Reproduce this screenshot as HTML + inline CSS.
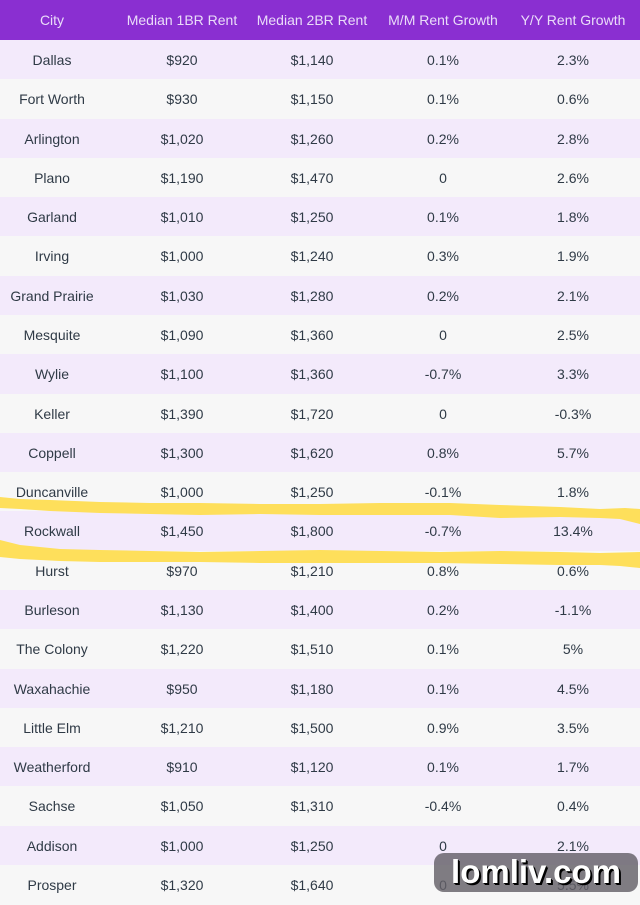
<!DOCTYPE html>
<html>
<head>
<meta charset="utf-8">
<style>
  html,body{margin:0;padding:0;}
  body{width:640px;height:900px;overflow:hidden;background:#f7f7f7;position:relative;font-family:"Liberation Sans",Arial,sans-serif;}
  .hdr{position:absolute;left:0;top:0;width:640px;height:40px;background:#8a2fd1;}
  .row{position:absolute;left:0;width:640px;height:39.3px;}
  .odd{background:#f3eafb;}
  .even{background:#f7f7f7;}
  .c{position:absolute;top:0;width:140px;text-align:center;font-size:14px;line-height:40px;color:#2f3a46;white-space:nowrap;}
  .hdr .c{color:#eadcf9;line-height:40px;font-size:14px;}
  .c1{left:-18px;}
  .c2{left:112px;}
  .c3{left:242px;}
  .c4{left:373px;}
  .c5{left:503px;}
  .wm{position:absolute;left:434px;top:853px;width:204px;height:39px;border-radius:10px;background:rgba(100,96,104,0.82);}
  .wmt{position:absolute;left:434px;top:853px;width:204px;height:39px;text-align:center;font-weight:bold;font-size:33px;line-height:38px;color:#fff;text-shadow:2px 2px 0 #000,1px 1px 0 #000;letter-spacing:0px;}
</style>
</head>
<body>
<div class="hdr">
  <div class="c c1">City</div>
  <div class="c c2">Median 1BR Rent</div>
  <div class="c c3">Median 2BR Rent</div>
  <div class="c c4">M/M Rent Growth</div>
  <div class="c c5">Y/Y Rent Growth</div>
</div>

<div class="row odd" style="top:40px"><div class="c c1">Dallas</div><div class="c c2">$920</div><div class="c c3">$1,140</div><div class="c c4">0.1%</div><div class="c c5">2.3%</div></div>
<div class="row even" style="top:79.29px"><div class="c c1">Fort Worth</div><div class="c c2">$930</div><div class="c c3">$1,150</div><div class="c c4">0.1%</div><div class="c c5">0.6%</div></div>
<div class="row odd" style="top:118.57px"><div class="c c1">Arlington</div><div class="c c2">$1,020</div><div class="c c3">$1,260</div><div class="c c4">0.2%</div><div class="c c5">2.8%</div></div>
<div class="row even" style="top:157.86px"><div class="c c1">Plano</div><div class="c c2">$1,190</div><div class="c c3">$1,470</div><div class="c c4">0</div><div class="c c5">2.6%</div></div>
<div class="row odd" style="top:197.14px"><div class="c c1">Garland</div><div class="c c2">$1,010</div><div class="c c3">$1,250</div><div class="c c4">0.1%</div><div class="c c5">1.8%</div></div>
<div class="row even" style="top:236.43px"><div class="c c1">Irving</div><div class="c c2">$1,000</div><div class="c c3">$1,240</div><div class="c c4">0.3%</div><div class="c c5">1.9%</div></div>
<div class="row odd" style="top:275.71px"><div class="c c1">Grand Prairie</div><div class="c c2">$1,030</div><div class="c c3">$1,280</div><div class="c c4">0.2%</div><div class="c c5">2.1%</div></div>
<div class="row even" style="top:315px"><div class="c c1">Mesquite</div><div class="c c2">$1,090</div><div class="c c3">$1,360</div><div class="c c4">0</div><div class="c c5">2.5%</div></div>
<div class="row odd" style="top:354.29px"><div class="c c1">Wylie</div><div class="c c2">$1,100</div><div class="c c3">$1,360</div><div class="c c4">-0.7%</div><div class="c c5">3.3%</div></div>
<div class="row even" style="top:393.57px"><div class="c c1">Keller</div><div class="c c2">$1,390</div><div class="c c3">$1,720</div><div class="c c4">0</div><div class="c c5">-0.3%</div></div>
<div class="row odd" style="top:432.86px"><div class="c c1">Coppell</div><div class="c c2">$1,300</div><div class="c c3">$1,620</div><div class="c c4">0.8%</div><div class="c c5">5.7%</div></div>
<div class="row even" style="top:472.14px"><div class="c c1">Duncanville</div><div class="c c2">$1,000</div><div class="c c3">$1,250</div><div class="c c4">-0.1%</div><div class="c c5">1.8%</div></div>
<div class="row odd" style="top:511.43px"><div class="c c1">Rockwall</div><div class="c c2">$1,450</div><div class="c c3">$1,800</div><div class="c c4">-0.7%</div><div class="c c5">13.4%</div></div>
<div class="row even" style="top:550.71px"><div class="c c1">Hurst</div><div class="c c2">$970</div><div class="c c3">$1,210</div><div class="c c4">0.8%</div><div class="c c5">0.6%</div></div>
<div class="row odd" style="top:590px"><div class="c c1">Burleson</div><div class="c c2">$1,130</div><div class="c c3">$1,400</div><div class="c c4">0.2%</div><div class="c c5">-1.1%</div></div>
<div class="row even" style="top:629.29px"><div class="c c1">The Colony</div><div class="c c2">$1,220</div><div class="c c3">$1,510</div><div class="c c4">0.1%</div><div class="c c5">5%</div></div>
<div class="row odd" style="top:668.57px"><div class="c c1">Waxahachie</div><div class="c c2">$950</div><div class="c c3">$1,180</div><div class="c c4">0.1%</div><div class="c c5">4.5%</div></div>
<div class="row even" style="top:707.86px"><div class="c c1">Little Elm</div><div class="c c2">$1,210</div><div class="c c3">$1,500</div><div class="c c4">0.9%</div><div class="c c5">3.5%</div></div>
<div class="row odd" style="top:747.14px"><div class="c c1">Weatherford</div><div class="c c2">$910</div><div class="c c3">$1,120</div><div class="c c4">0.1%</div><div class="c c5">1.7%</div></div>
<div class="row even" style="top:786.43px"><div class="c c1">Sachse</div><div class="c c2">$1,050</div><div class="c c3">$1,310</div><div class="c c4">-0.4%</div><div class="c c5">0.4%</div></div>
<div class="row odd" style="top:825.71px"><div class="c c1">Addison</div><div class="c c2">$1,000</div><div class="c c3">$1,250</div><div class="c c4">0</div><div class="c c5">2.1%</div></div>
<div class="row even" style="top:865px"><div class="c c1">Prosper</div><div class="c c2">$1,320</div><div class="c c3">$1,640</div><div class="c c4">0</div><div class="c c5">5.5%</div></div>

<svg style="position:absolute;left:0;top:0" width="640" height="900" viewBox="0 0 640 900">
  <path fill="#fedf5b" d="M0,497 L20,499 L50,500 L100,502 L150,503 L200,503 L260,504 L320,504 L380,503 L450,503 L500,505 L560,507 L600,509 L625,508 L640,509 L640,524 L632,522 L620,519 L600,518 L560,517 L500,518 L450,515 L380,515 L320,515 L260,514 L200,515 L150,514 L100,513 L50,511 L20,509 L0,508 Z"/>
  <path fill="#fedf5b" d="M0,540 L20,545 L60,549 L100,550 L150,551 L200,552 L260,551 L320,550 L380,551 L440,552 L500,551 L560,552 L600,553 L640,552 L640,568 L620,566 L600,565 L560,565 L500,564 L440,563 L380,563 L320,563 L260,563 L200,562 L150,562 L100,562 L60,561 L20,559 L0,557 Z"/>
</svg>

<div class="wm"></div>
<div class="wmt">lomliv.com</div>
</body>
</html>
